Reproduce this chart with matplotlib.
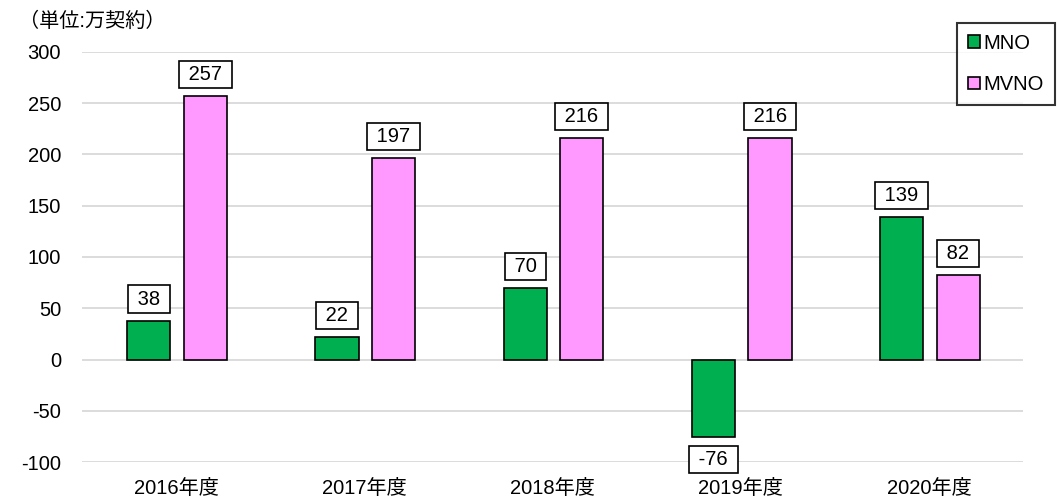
import matplotlib.pyplot as plt
import numpy as np

plt.rcParams['font.family'] = ['Liberation Sans', 'Noto Sans CJK JP']

years = ['2016年度', '2017年度', '2018年度', '2019年度', '2020年度']
mno = [38, 22, 70, -76, 139]
mvno = [257, 197, 216, 216, 82]

fig = plt.figure(figsize=(10.57, 4.97), dpi=100)
ax = fig.add_axes([0.0776, 0.0704, 0.8904, 0.825])

x = np.arange(len(years))
w = 0.23
b1 = ax.bar(x - 0.145, mno, w, color='#00b050', edgecolor='black', linewidth=1.2, label='MNO', zorder=3)
b2 = ax.bar(x + 0.155, mvno, w, color='#ff99ff', edgecolor='black', linewidth=1.2, label='MVNO', zorder=3)

box = dict(boxstyle='square,pad=0.2', facecolor='white', edgecolor='black', linewidth=1.2)
for bars, vals in [(b1, mno), (b2, mvno)]:
    for r, v in zip(bars, vals):
        cx = r.get_x() + r.get_width() / 2
        off = 15.5 if v >= 0 else -16
        ax.annotate(' %d ' % v, (cx, v), xytext=(0, off), textcoords='offset points',
                    ha='center', va='center', fontsize=14.5, bbox=box, zorder=4)

ax.set_xlim(-0.5, 4.5)
ax.set_ylim(-100, 300)
yt = list(range(-100, 301, 50))
ax.set_yticks(yt)
ax.set_yticklabels([str(t) for t in yt])
ax.set_xticks(x)
ax.set_xticklabels(years)
ax.tick_params(axis='both', length=0, labelsize=14.5)
ax.tick_params(axis='y', pad=15)
ax.tick_params(axis='x', pad=12)
ax.yaxis.grid(True, color='#d9d9d9', linewidth=1.3, zorder=0)
for s in ax.spines.values():
    s.set_visible(False)

fig.text(0.018, 0.958, '（単位:万契約）', fontsize=14.5, va='center', ha='left')

leg = fig.legend(loc='upper right', bbox_to_anchor=(0.998, 0.954), fontsize=14.5,
                 frameon=True, fancybox=False, edgecolor='black', handlelength=0.6,
                 handleheight=0.6, handletextpad=0.15, labelspacing=1.1, borderpad=0.55,
                 borderaxespad=0)
leg.get_frame().set_linewidth(1.5)

fig.savefig('out.png', dpi=100)
